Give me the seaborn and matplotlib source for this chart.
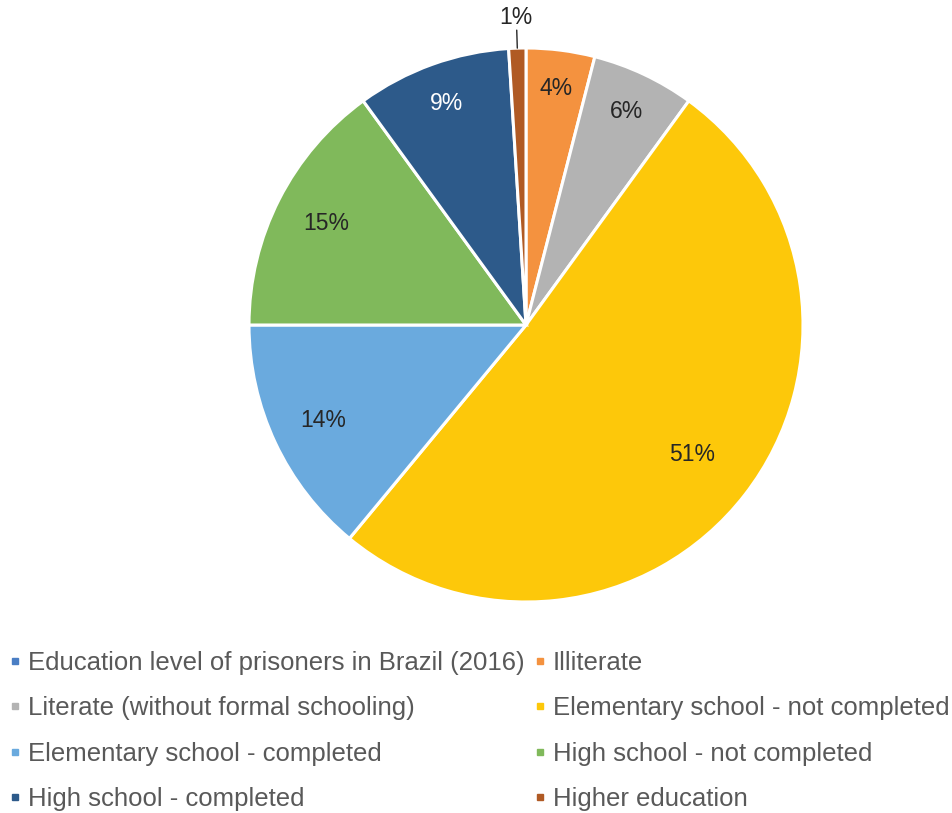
import numpy as np
import matplotlib
matplotlib.use("Agg")
import matplotlib.pyplot as plt
from matplotlib.lines import Line2D
import seaborn as sns

sns.set_theme(style="white")
plt.rcParams['font.family'] = ['Liberation Sans', 'DejaVu Sans']

series_name = "Education level of prisoners in Brazil (2016)"
categories = [
    "Illiterate",
    "Literate (without formal schooling)",
    "Elementary school - not completed",
    "Elementary school - completed",
    "High school - not completed",
    "High school - completed",
    "Higher education",
]
shares = [4, 6, 51, 14, 15, 9, 1]

series_color = "#4A7EC4"
colors = ["#F4923F", "#B3B3B3", "#FDC80A", "#6AAADE", "#80B95B", "#2D5A8A", "#B05A24"]
label_colors = ["#262626", "#262626", "#262626", "#262626", "#262626", "#FFFFFF", "#262626"]
label_radius = [0.86, 0.85, 0.76, 0.81, 0.81, 0.85, 1.11]

fig = plt.figure(figsize=(9.53, 8.13), dpi=100)
ax = fig.add_axes([249 / 953, (813 - 602) / 813, 554 / 953, 554 / 813])

wedges, _ = ax.pie(
    shares,
    colors=colors,
    startangle=90,
    counterclock=False,
    radius=1.0,
    wedgeprops=dict(edgecolor="white", linewidth=2.2),
)
ax.set_xlim(-1, 1)
ax.set_ylim(-1, 1)
ax.set_aspect("equal")
ax.axis("off")

for w, val, r, tc in zip(wedges, shares, label_radius, label_colors):
    ang = np.deg2rad((w.theta1 + w.theta2) / 2)
    x, y = r * np.cos(ang), r * np.sin(ang)
    ax.text(x, y, f"{val}%", ha="center", va="center", fontsize=16.5,
            color=tc, clip_on=False)
    if r > 1:
        ax.plot([np.cos(ang) * 1.0, np.cos(ang) * 1.065],
                [np.sin(ang) * 1.0, np.sin(ang) * 1.065],
                color="#262626", lw=1.0, clip_on=False)

labels = [series_name] + categories
handle_colors = [series_color] + colors
handles = [Line2D([], [], marker="s", linestyle="none", markersize=5,
                  markerfacecolor=c, markeredgecolor=c) for c in handle_colors]

# two columns, filled row by row
order = [0, 2, 4, 6, 1, 3, 5, 7]
leg = fig.legend(
    [handles[i] for i in order], [labels[i] for i in order],
    ncol=2, loc="upper left", bbox_to_anchor=(0.004, 1 - 646 / 813),
    frameon=False, fontsize=18.5, handlelength=0.45, handletextpad=0.3,
    columnspacing=0.35, labelspacing=0.83, borderaxespad=0, borderpad=0.2,
    labelcolor="#595959",
)

fig.savefig("out.png", dpi=100)
